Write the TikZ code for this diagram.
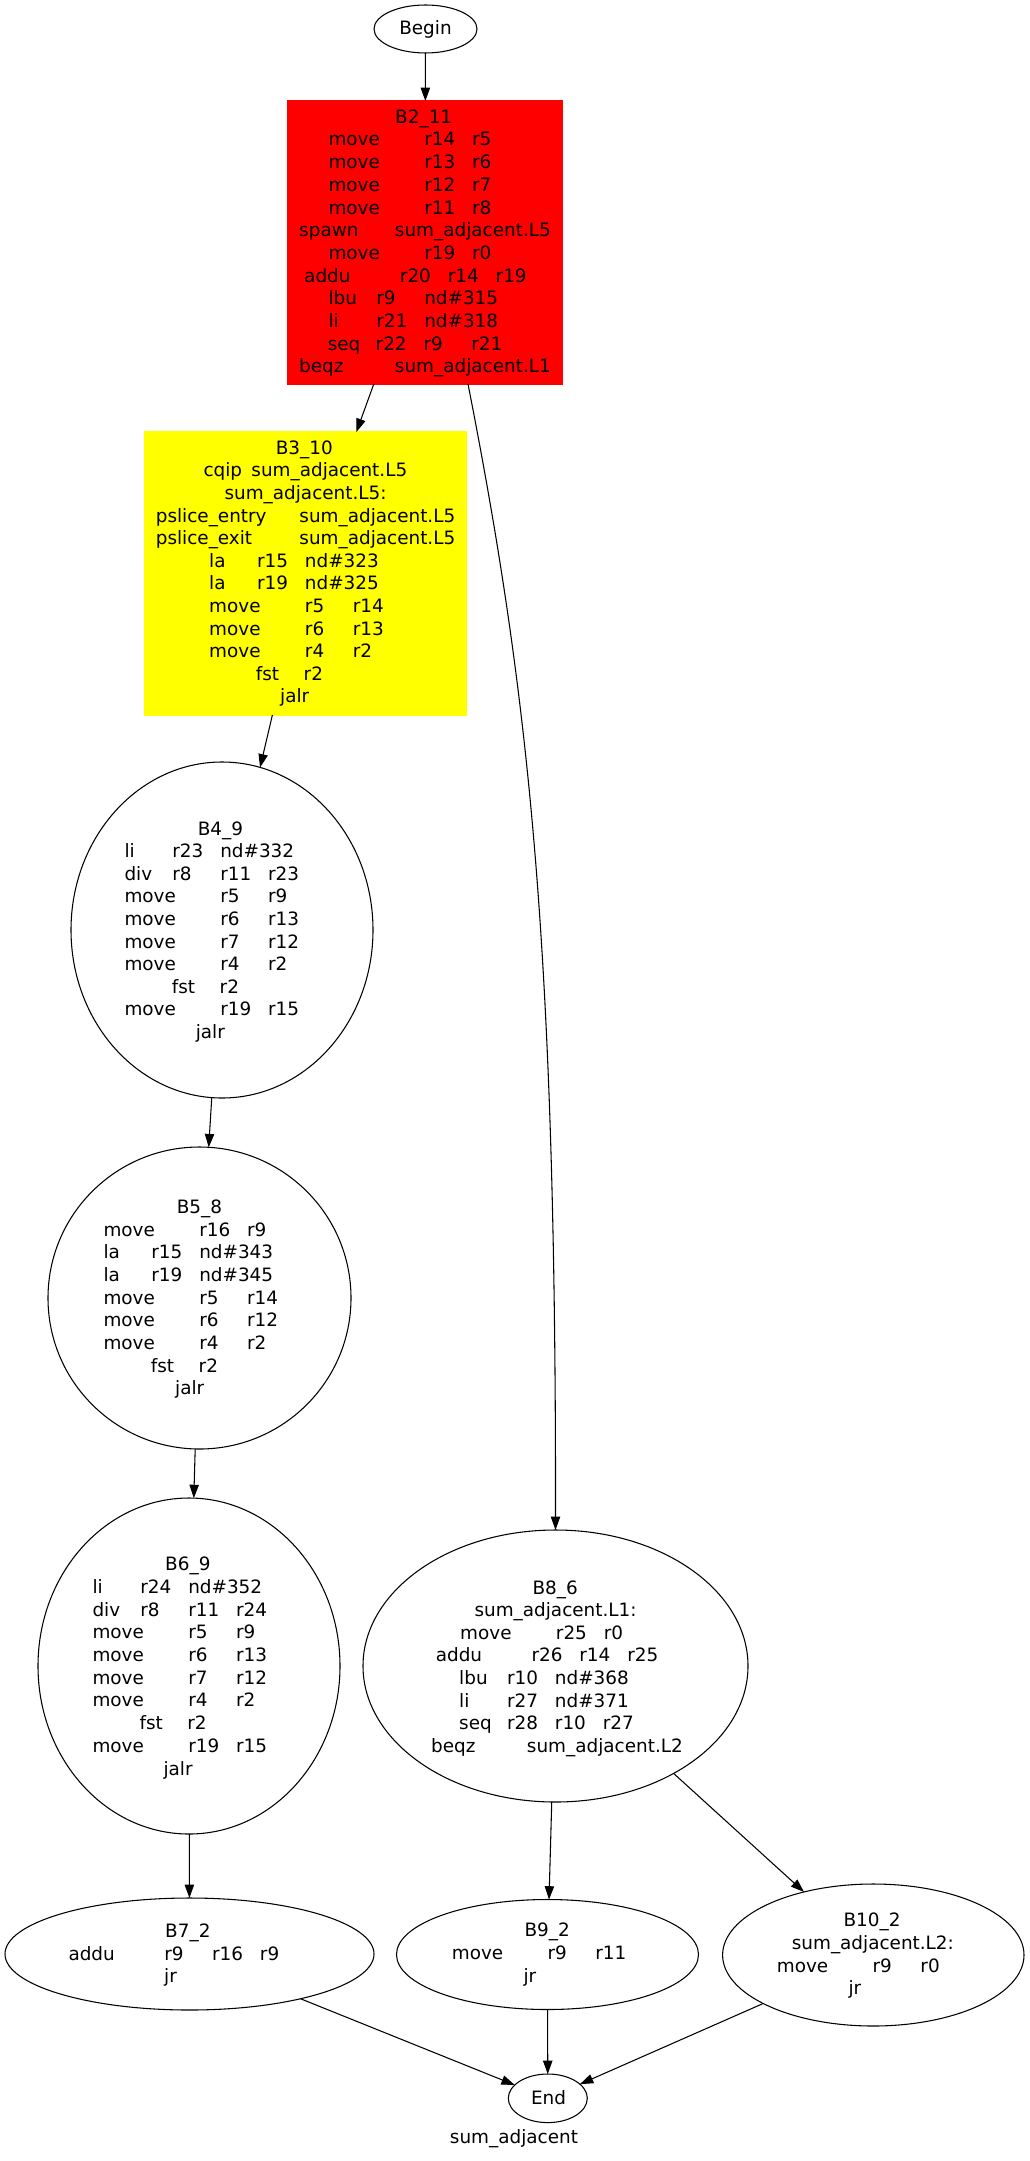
\documentclass[tikz,border=0pt]{standalone}
\usepackage{fontspec}
\newfontfamily\dvs{DejaVu Sans}
\usetikzlibrary{shapes.geometric,arrows.meta}
\definecolor{gvred}{RGB}{255,0,0}
\definecolor{gvyellow}{RGB}{255,255,0}
\newlength\px \setlength\px{0.75pt}
\newlength\tabw \setlength\tabw{35.9pt}
\newcommand\tc[2][1]{\makebox[#1\tabw][l]{#2}}
\tikzset{
  txt/.style={anchor=base west,inner sep=0pt,outer sep=0pt,xshift=-1.1pt,font=\dvs\fontsize{13.8pt}{16pt}\selectfont},
  ctxt/.style={anchor=base,inner sep=0pt,outer sep=0pt,font=\dvs\fontsize{13.8pt}{16pt}\selectfont},
  blk/.style={draw,line width=0.8pt,inner sep=0pt,outer sep=0pt},
  edge/.style={draw,line width=0.8pt,-{Triangle[length=10pt,width=7pt]}}
}
\newcommand\Ln[4]{\node[txt] (#1) at (#2,#3) {#4};}
\newcommand\Ell[5]{\node[blk,ellipse,minimum width=#4\px,minimum height=#5\px] (#1) at (#2,#3) {};}
\begin{document}
\begin{tikzpicture}[x=0.75pt,y=-0.75pt]
\useasboundingbox (0,0) rectangle (1029,2161);
\fill[white] (0,0) rectangle (1029,2161);
% shapes
\Ell{begin}{425.5}{29}{103}{48}
\node[blk,rectangle,fill=gvred,draw=gvred,minimum width=274\px,minimum height=283\px] (b2) at (425,242.5) {};
\node[blk,rectangle,fill=gvyellow,draw=gvyellow,minimum width=321\px,minimum height=283\px] (b3) at (305.5,573.5) {};
\Ell{b4}{222}{930}{302}{336}
\Ell{b5}{199.5}{1298}{303}{302}
\Ell{b6}{189}{1666}{302}{336}
\Ell{b8}{555.5}{1666}{385}{272}
\Ell{b7}{189.5}{1954}{369}{112}
\Ell{b9}{547.5}{1954.5}{302}{110}
\Ell{b10}{873.3}{1955}{301.4}{142}
\Ell{end}{547.8}{2098.3}{79}{48.6}
% texts
\node[ctxt] (begint) at (425.5,35) {Begin};
\node[ctxt] (endt) at (548.5,2104) {End};
\node[ctxt] (graphlabel) at (514,2143.3) {sum\_adjacent};
% B2_11
\Ln{b2t}{396.7}{123.3}{B2\_11}
\Ln{b2a}{330}{146.0}{\tc[2]{move}\tc{r14}r5}
\Ln{b2b}{330}{168.7}{\tc[2]{move}\tc{r13}r6}
\Ln{b2c}{330}{191.4}{\tc[2]{move}\tc{r12}r7}
\Ln{b2d}{330}{214.1}{\tc[2]{move}\tc{r11}r8}
\Ln{b2e}{300.7}{236.8}{\tc[2]{spawn}sum\_adjacent.L5}
\Ln{b2f}{330}{259.5}{\tc[2]{move}\tc{r19}r0}
\Ln{b2g}{305.7}{282.2}{\tc[2]{addu}\tc{r20}\tc{r14}r19}
\Ln{b2h}{330}{304.9}{\tc{lbu}\tc{r9}nd\#315}
\Ln{b2i}{330}{327.6}{\tc{li}\tc{r21}nd\#318}
\Ln{b2j}{329.3}{350.3}{\tc{seq}\tc{r22}\tc{r9}r21}
\Ln{b2k}{300.7}{373.0}{\tc[2]{beqz}sum\_adjacent.L1}
% B3_10
\Ln{b3t}{277.3}{454.3}{B3\_10}
\Ln{b3a}{205}{476.9}{\tc{cqip}sum\_adjacent.L5}
\Ln{b3b}{226}{499.5}{sum\_adjacent.L5:}
\Ln{b3c}{157.3}{522.1}{\tc[3]{pslice\_entry}sum\_adjacent.L5}
\Ln{b3d}{157.3}{544.7}{\tc[3]{pslice\_exit}sum\_adjacent.L5}
\Ln{b3e}{210.7}{567.3}{\tc{la}\tc{r15}nd\#323}
\Ln{b3f}{210.7}{589.9}{\tc{la}\tc{r19}nd\#325}
\Ln{b3g}{210.7}{612.5}{\tc[2]{move}\tc{r5}r14}
\Ln{b3h}{210.7}{635.1}{\tc[2]{move}\tc{r6}r13}
\Ln{b3i}{210.7}{657.7}{\tc[2]{move}\tc{r4}r2}
\Ln{b3j}{257.3}{680.3}{\tc{fst}r2}
\Ln{b3k}{281.7}{702.9}{jalr}
% B4_9
\Ln{b4t}{199.3}{835.0}{B4\_9}
\Ln{b4a}{126}{857.6}{\tc{li}\tc{r23}nd\#332}
\Ln{b4b}{126}{880.2}{\tc{div}\tc{r8}\tc{r11}r23}
\Ln{b4c}{126}{902.8}{\tc[2]{move}\tc{r5}r9}
\Ln{b4d}{126}{925.4}{\tc[2]{move}\tc{r6}r13}
\Ln{b4e}{126}{948.0}{\tc[2]{move}\tc{r7}r12}
\Ln{b4f}{126}{970.6}{\tc[2]{move}\tc{r4}r2}
\Ln{b4g}{173.3}{993.2}{\tc{fst}r2}
\Ln{b4h}{126}{1015.8}{\tc[2]{move}\tc{r19}r15}
\Ln{b4i}{197.3}{1038.4}{jalr}
% B5_8
\Ln{b5t}{178.3}{1213.3}{B5\_8}
\Ln{b5a}{105}{1236.0}{\tc[2]{move}\tc{r16}r9}
\Ln{b5b}{105}{1258.7}{\tc{la}\tc{r15}nd\#343}
\Ln{b5c}{105}{1281.4}{\tc{la}\tc{r19}nd\#345}
\Ln{b5d}{105}{1304.1}{\tc[2]{move}\tc{r5}r14}
\Ln{b5e}{105}{1326.8}{\tc[2]{move}\tc{r6}r12}
\Ln{b5f}{105}{1349.5}{\tc[2]{move}\tc{r4}r2}
\Ln{b5g}{152.3}{1372.2}{\tc{fst}r2}
\Ln{b5h}{176.7}{1394.9}{jalr}
% B6_9
\Ln{b6t}{166.7}{1570.7}{B6\_9}
\Ln{b6a}{94}{1593.4}{\tc{li}\tc{r24}nd\#352}
\Ln{b6b}{94}{1616.1}{\tc{div}\tc{r8}\tc{r11}r24}
\Ln{b6c}{94}{1638.8}{\tc[2]{move}\tc{r5}r9}
\Ln{b6d}{94}{1661.5}{\tc[2]{move}\tc{r6}r13}
\Ln{b6e}{94}{1684.2}{\tc[2]{move}\tc{r7}r12}
\Ln{b6f}{94}{1706.9}{\tc[2]{move}\tc{r4}r2}
\Ln{b6g}{141}{1729.6}{\tc{fst}r2}
\Ln{b6h}{94}{1752.3}{\tc[2]{move}\tc{r19}r15}
\Ln{b6i}{165}{1775.0}{jalr}
% B8_6
\Ln{b8t}{534}{1594.0}{B8\_6}
\Ln{b8a}{476}{1616.6}{sum\_adjacent.L1:}
\Ln{b8b}{461.7}{1639.2}{\tc[2]{move}\tc{r25}r0}
\Ln{b8c}{437.3}{1661.8}{\tc[2]{addu}\tc{r26}\tc{r14}r25}
\Ln{b8d}{460.7}{1684.4}{\tc{lbu}\tc{r10}nd\#368}
\Ln{b8e}{460.7}{1707.0}{\tc{li}\tc{r27}nd\#371}
\Ln{b8f}{460.7}{1729.6}{\tc{seq}\tc{r28}\tc{r10}r27}
\Ln{b8g}{432.7}{1752.2}{\tc[2]{beqz}sum\_adjacent.L2}
% B7_2
\Ln{b7t}{166.7}{1937.3}{B7\_2}
\Ln{b7a}{70}{1960.0}{\tc[2]{addu}\tc{r9}\tc{r16}r9}
\Ln{b7b}{165.7}{1982.7}{jr}
% B9_2
\Ln{b9t}{526}{1936.7}{B9\_2}
\Ln{b9a}{453.3}{1959.4}{\tc[2]{move}\tc{r9}r11}
\Ln{b9b}{525}{1982.1}{jr}
% B10_2
\Ln{b10t}{845}{1926.7}{B10\_2}
\Ln{b10a}{793.3}{1949.4}{sum\_adjacent.L2:}
\Ln{b10b}{778.3}{1972.1}{\tc[2]{move}\tc{r9}r0}
\Ln{b10c}{850}{1994.8}{jr}
% edges
\draw[edge] (begin) -- (b2);
\draw[edge] (b2) -- (b3);
\draw[edge] ([xshift=43\px]b2.south) .. controls (530,700) and (556,950) .. (b8.north);
\draw[edge] (b3) -- (b4);
\draw[edge] (b4) -- (b5);
\draw[edge] (b5) -- (b6);
\draw[edge] (b6) -- (b7);
\draw[edge] (b8) -- (b9);
\draw[edge] (b8) -- (b10);
\draw[edge] (b7) -- (end);
\draw[edge] (b9) -- (end);
\draw[edge] (b10) -- (end);
\end{tikzpicture}
\end{document}
